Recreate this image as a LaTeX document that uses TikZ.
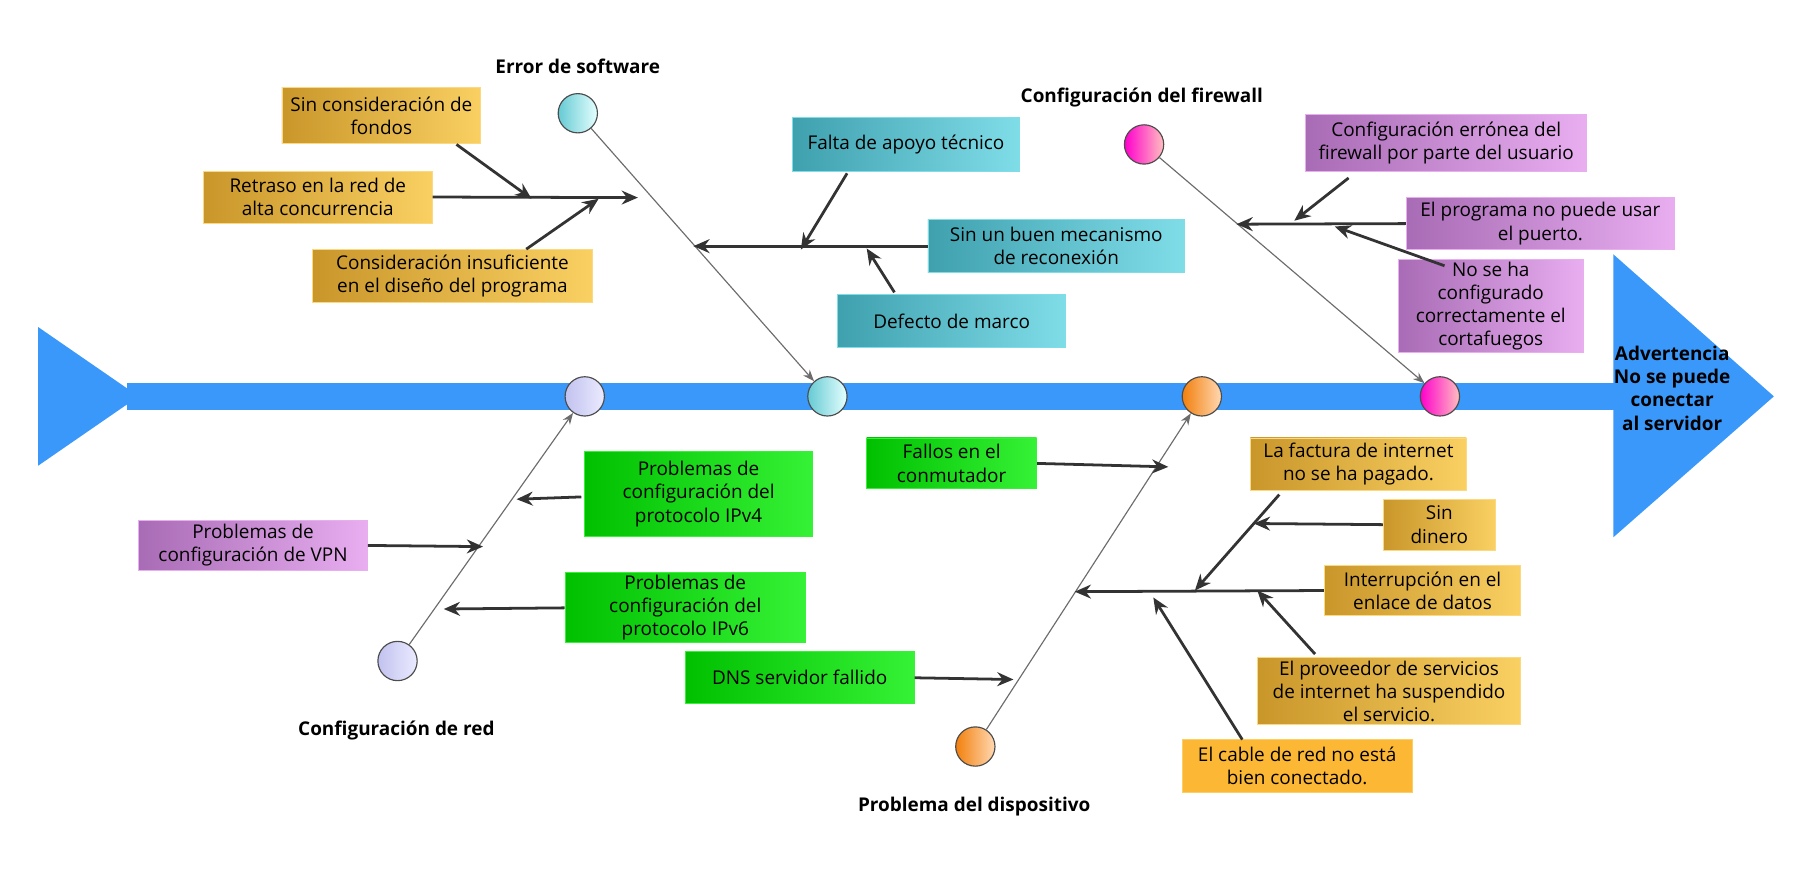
\documentclass[tikz,border=0pt]{standalone}
\usepackage{fontspec}
\setmainfont{Open Sans}
\usetikzlibrary{arrows.meta}
\definecolor{gA}{HTML}{C9962A}\definecolor{gB}{HTML}{FAD062}
\definecolor{cA}{HTML}{3FA0AE}\definecolor{cB}{HTML}{7FDDE8}
\definecolor{pA}{HTML}{A86BB5}\definecolor{pB}{HTML}{E8AEF0}
\definecolor{vA}{HTML}{00C000}\definecolor{vB}{HTML}{36F236}
\definecolor{spine}{HTML}{3A98FA}
\definecolor{arr}{HTML}{333333}
\begin{document}
\begin{tikzpicture}[x=0.5pt,y=-0.5pt,
  every node/.style={font=\fontsize{8.2}{10}\selectfont,inner sep=1pt},
  sz/.style 2 args={minimum width=#1*0.5pt,minimum height=#2*0.5pt,align=center},
  gold/.style={left color=gA,right color=gB,draw=gB!80},
  cyan/.style={left color=cA,right color=cB,draw=cB},
  purp/.style={left color=pA,right color=pB,draw=pB},
  grn/.style={left color=vA,right color=vB,draw=vB},
  ar/.style={draw=arr,line width=1.2pt,-{Stealth[length=7pt,width=6pt]}},
  bone/.style={draw=gray!85!black,line width=0.5pt},
  dot/.style={circle,draw=gray!60!black,line width=0.5pt,minimum size=17pt,inner sep=0pt},
  ttl/.style={font=\fontsize{8.2}{10}\selectfont\bfseries,align=center}]
\useasboundingbox (0,0) rectangle (1568,754);
% spine
\fill[spine] (110,331) rectangle (1400,355);
\fill[spine] (33,283) -- (120,343) -- (33,403) -- cycle;
\fill[spine] (1396,220) -- (1535,343) -- (1396,465) -- cycle;
\node[ttl] (head) at (1447,336) {Advertencia\\No se puede\\conectar\\al servidor};
% circles
\node[dot,left color=gray!40!blue!30,right color=blue!8] (n1) at (506,343) {};
\node[dot,left color=cB!80!teal,right color=cyan!10] (s1) at (716,343) {};
\node[dot,left color=orange!80!brown,right color=orange!30] (d1) at (1040,343) {};
\node[dot,left color=magenta!80!red,right color=pink] (f1) at (1246,343) {};
\node[dot,left color=cB!80!teal,right color=cyan!10] (s0) at (500,98) {};
\node[dot,left color=magenta!80!red,right color=pink] (f0) at (990,125) {};
\node[dot,left color=gray!40!blue!30,right color=blue!8] (n0) at (344,572) {};
\node[dot,left color=orange!80!brown,right color=orange!30] (d0) at (844,646) {};
\draw[bone,-{Stealth[length=5pt]}] (s0) -- (s1);
\draw[bone,-{Stealth[length=5pt]}] (f0) -- (f1);
\draw[bone,-{Stealth[length=5pt]}] (n0) -- (n1);
\draw[bone,-{Stealth[length=5pt]}] (d0) -- (d1);
\node[ttl] (ts) at (500,57) {Error de software};
\node[ttl] (tf) at (988,84) {Configuración del firewall};
\node[ttl] (tn) at (343,632) {Configuración de red};
\node[ttl] (td) at (843,698) {Problema del dispositivo};
% software boxes
\node[gold,sz={172}{48}] (sf1) at (330,100) {Sin consideración de\\fondos};
\node[gold,sz={198}{45}] (sf2) at (275,170.5) {Retraso en la red de\\alta concurrencia};
\node[gold,sz={243}{46}] (sf3) at (391.5,239) {Consideración insuficiente\\en el diseño del programa};
\node[cyan,sz={196}{46}] (c1) at (784,125) {Falta de apoyo técnico};
\node[cyan,sz={222}{46}] (c2) at (914,213) {Sin un buen mecanismo\\de reconexión};
\node[cyan,sz={197}{46}] (c3) at (823.5,278) {Defecto de marco};
\coordinate (sa) at (552,171);\coordinate (sa1) at (460,172);\coordinate (sa2) at (518,172);
\draw[ar] (sf2.east) -- (sa);
\draw[ar] (395,125) -- (sa1);
\draw[ar] (sf3.north east)+(-58,0) -- (sa2);
\coordinate (sb) at (600,213);\coordinate (sb1) at (693,216);\coordinate (sb2) at (750,215);
\draw[ar] (c2.west) -- (sb);
\draw[ar] (733,150) -- (sb1);
\draw[ar] (774,253) -- (sb2);
% firewall
\node[purp,sz={243}{49}] (p1) at (1251.5,123.5) {Configuración errónea del\\firewall por parte del usuario};
\node[purp,sz={232}{45}] (p2) at (1333,193.5) {El programa no puede usar\\el puerto.};
\node[purp,sz={160}{72}] (p3) at (1290,265) {No se ha\\configurado\\correctamente el\\cortafuegos};
\coordinate (fa) at (1070,194);\coordinate (fa1) at (1120,191);\coordinate (fa2) at (1155,196);
\draw[ar] (p2.west) -- (fa);
\draw[ar] (1167,154) -- (fa1);
\draw[ar] (1250,230) -- (fa2);
% network
\node[grn,sz={197}{73}] (g4) at (604.5,427.5) {Problemas de\\configuración del\\protocolo IPv4};
\node[purp,sz={198}{44}] (vpn) at (219,472) {Problemas de\\configuración de VPN};
\node[grn,sz={208}{56}] (g6) at (593,526) {Problemas de\\configuración del\\protocolo IPv6};
\coordinate (na1) at (447,432);\coordinate (na2) at (418,473);\coordinate (na3) at (384,527);
\draw[ar] (503,430) -- (na1);
\draw[ar] (vpn.east) -- (na2);
\draw[ar] (g6.west) -- (na3);
% device
\node[grn,sz={147}{44}] (fc) at (823.5,401) {Fallos en el\\conmutador};
\node[grn,sz={198}{45}] (dns) at (692,586.5) {DNS servidor fallido};
\node[gold,sz={187}{45}] (o1) at (1175.5,401.5) {La factura de internet\\no se ha pagado.};
\node[gold,sz={97}{44}] (o2) at (1245.5,454) {Sin\\dinero};
\node[gold,sz={170}{44}] (o3) at (1231,511) {Interrupción en el\\enlace de datos};
\node[gold,sz={228}{58}] (o4) at (1202,598) {El proveedor de servicios\\de internet ha suspendido\\el servicio.};
\node[fill=gB!60!orange!90!yellow,draw=gB,sz={199}{46}] (o5) at (1122.5,663) {El cable de red no está\\bien conectado.};
\coordinate (da1) at (1011,404);\coordinate (da2) at (877,588);
\draw[ar] (fc.east) -- (da1);
\draw[ar] (dns.east) -- (da2);
\coordinate (db) at (930,512);\coordinate (db1) at (1034,511);\coordinate (db2) at (1085,453);
\coordinate (db3) at (1088,511);\coordinate (db4) at (998,517);
\draw[ar] (o3.west) -- (db);
\draw[ar] (1107,428) -- (db1);
\draw[ar] (o2.west) -- (db2);
\draw[ar] (1138,566) -- (db3);
\draw[ar] (1075,640) -- (db4);
\end{tikzpicture}
\end{document}
